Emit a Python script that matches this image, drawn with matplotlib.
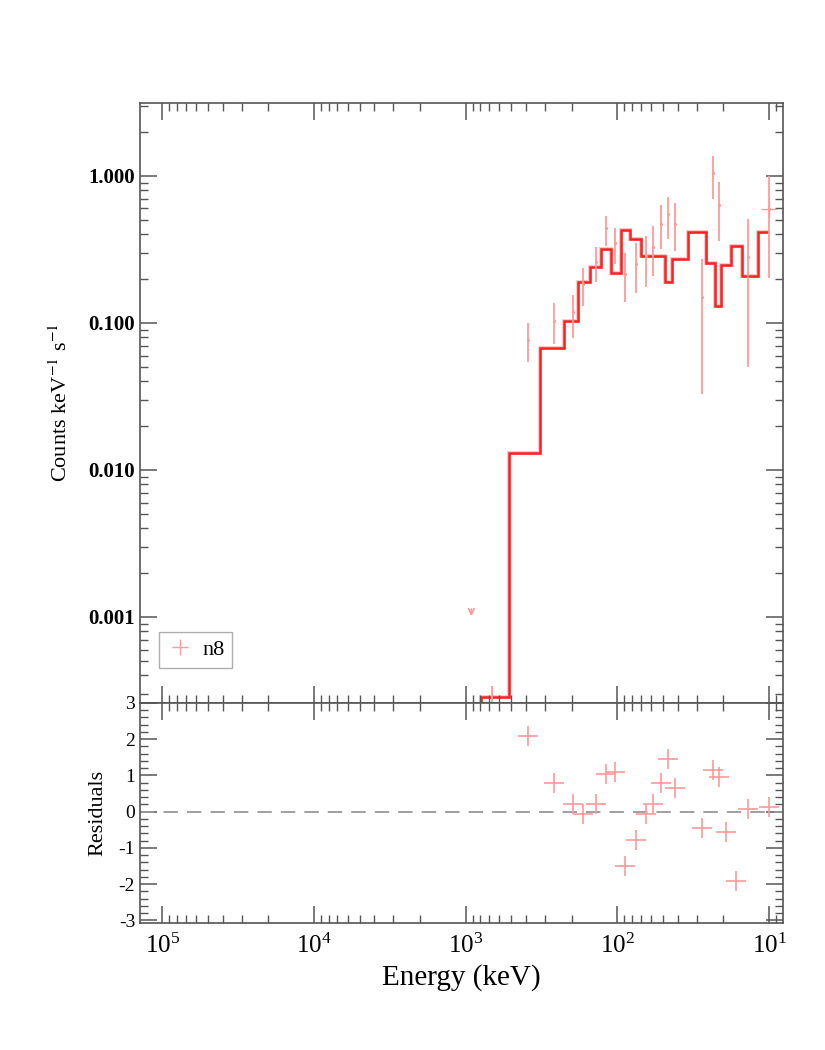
"""Count spectrum with folded model and residuals (n8 detector)"""
import matplotlib
matplotlib.use('Agg')
import matplotlib.pyplot as plt
import numpy as np
from matplotlib.ticker import LogLocator, MultipleLocator, FuncFormatter, NullFormatter

# model step function (bin edges in keV, ascending)
model_edges = [10.0, 11.8, 15.1, 17.8, 20.6, 22.8, 26.0, 34.1, 43.9, 48.3, 69.8,
               82.5, 94.6, 110, 128, 150.5, 183, 226, 321, 521, 788, 1000]
model_vals = [0.415, 0.209, 0.335, 0.249, 0.131, 0.257, 0.415, 0.271, 0.19, 0.287,
              0.374, 0.426, 0.22, 0.318, 0.24, 0.189, 0.103, 0.068, 0.013, 2.85e-4, 1e-6]

# data points
data_e = [9.95, 13.7, 21.4, 23.4, 27.6, 41.5, 46.0, 51.6, 58.6, 64.7, 75.8, 88.6,
          103.1, 118.1, 137.5, 167.4, 195.6, 259.7, 389]
data_c = [0.592, 0.280, 0.638, 1.038, 0.149, 0.473, 0.554, 0.473, 0.328, 0.284,
          0.250, 0.216, 0.349, 0.440, 0.259, 0.184, 0.118, 0.1035, 0.0764]
data_lo = [0.201, 0.0502, 0.358, 0.693, 0.0327, 0.306, 0.370, 0.316, 0.210, 0.175,
           0.159, 0.1395, 0.250, 0.335, 0.189, 0.131, 0.0789, 0.0718, 0.0543]
data_hi = [1.0, 0.512, 0.910, 1.363, 0.273, 0.658, 0.719, 0.638, 0.456, 0.390,
           0.351, 0.300, 0.442, 0.537, 0.328, 0.236, 0.156, 0.136, 0.0993]

# upper limits
ul_e = [917]
ul_c = [0.00118]
low_e = [667]
low_c = [3.37e-4]

# residuals
res_e = [9.95, 13.7, 16.4, 19.3, 21.4, 23.4, 27.6, 41.5, 46.0, 51.6, 58.6, 64.7,
         75.8, 88.6, 103.1, 118.1, 137.5, 167.4, 195.6, 259.7, 389]
res_v = [0.12, 0.07, -1.9, -0.55, 0.95, 1.15, -0.45, 0.65, 1.45, 0.78, 0.22, -0.07,
         -0.78, -1.5, 1.1, 1.05, 0.22, -0.07, 0.22, 0.78, 2.1]

plt.rcParams['font.family'] = ['Liberation Serif', 'DejaVu Serif']
plt.rcParams['mathtext.fontset'] = 'stix'
plt.rcParams['axes.unicode_minus'] = False

pink = '#ff9a9a'
red = '#ff2020'
axcol = '#555555'

fig = plt.figure(figsize=(8.25, 10.5), dpi=100)
ax1 = fig.add_axes([0.1697, 0.3305, 0.7793, 0.5714])
ax2 = fig.add_axes([0.1697, 0.121, 0.7793, 0.2095], sharex=ax1)

# top panel
ax1.stairs(model_vals, model_edges, color='#ff8080', lw=2.8, alpha=0.45, baseline=None)
ax1.stairs(model_vals, model_edges, color=red, lw=1.8, baseline=None)
yerr = [np.array(data_c) - np.array(data_lo), np.array(data_hi) - np.array(data_c)]
ax1.errorbar(data_e, data_c, yerr=yerr, fmt='.', color=pink, ms=2.5, elinewidth=1.3,
             capsize=0)
ax1.plot(data_e[:1], data_c[:1], '+', color=pink, ms=12, mew=1.0, ls='none', label='n8')
for e, c in zip(ul_e, ul_c):
    ax1.annotate('', xy=(e, c * 0.82), xytext=(e, c),
                 arrowprops=dict(arrowstyle='->', color=pink, lw=1.3))
ax1.errorbar(low_e, low_c, yerr=[[low_c[0] * 0.5], [0]], fmt='none', color=pink,
             elinewidth=1.3)

ax1.set_xscale('log')
ax1.set_yscale('log')
ax1.set_xlim(1.4e5, 8.1)
ax1.set_ylim(2.6e-4, 3.13)
ax1.set_yticks([0.001, 0.01, 0.1, 1.0])
ax1.yaxis.set_major_formatter(FuncFormatter(lambda v, p: '%.3f' % v))
ax1.yaxis.set_minor_locator(LogLocator(base=10, subs=np.arange(2, 10)))
ax1.yaxis.set_minor_formatter(NullFormatter())
ax1.set_ylabel('Counts keV$^{-1}$ s$^{-1}$', fontsize=16, labelpad=12)
for lab in ax1.get_yticklabels():
    lab.set_fontweight('bold')
    lab.set_fontsize(15)
plt.setp(ax1.get_xticklabels(), visible=False)

leg = ax1.legend(loc='lower left', bbox_to_anchor=(0.012, 0.04), fontsize=16,
                 frameon=True, fancybox=False, handlelength=1.2, handletextpad=0.4,
                 borderpad=0.35)
leg.get_frame().set_edgecolor('#999999')
leg.get_frame().set_linewidth(1.0)

# residual panel
ax2.axhline(0, color='#999999', lw=1.3, ls=(0, (8, 5)))
ax2.plot(res_e, res_v, '+', color=pink, ms=14, mew=1.2, ls='none')
ax2.set_ylim(-3.07, 3.0)
ax2.yaxis.set_major_locator(MultipleLocator(1))
ax2.yaxis.set_minor_locator(MultipleLocator(0.2))
ax2.set_ylabel('Residuals', fontsize=16, labelpad=8)
ax2.set_xlabel('Energy (keV)', fontsize=21)
ax2.xaxis.set_major_locator(LogLocator(base=10, numticks=10))
ax2.xaxis.set_minor_locator(LogLocator(base=10, subs=np.arange(2, 10), numticks=10))
ax2.xaxis.set_minor_formatter(NullFormatter())
ax2.tick_params(axis='x', labelsize=18, pad=8)
ax2.tick_params(axis='y', labelsize=14)

for ax in (ax1, ax2):
    for sp in ax.spines.values():
        sp.set_color(axcol)
        sp.set_linewidth(1.2)
    ax.tick_params(which='both', direction='in', top=True, right=True, color=axcol)
    ax.tick_params(which='major', length=12, width=1.1)
    ax.tick_params(which='minor', length=6, width=1.0)

fig.savefig('out.png', dpi=100)
